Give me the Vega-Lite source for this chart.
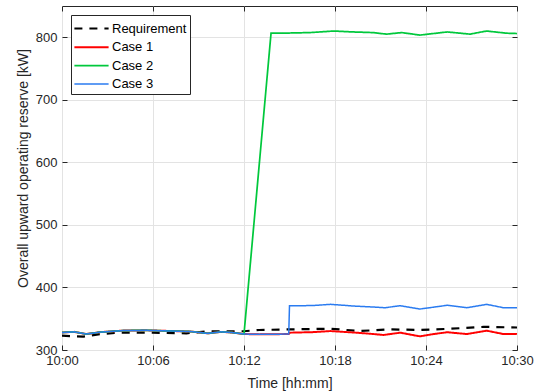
{
  "$schema": "https://vega.github.io/schema/vega-lite/v6.json",
  "width": 455,
  "height": 344,
  "autosize": "none",
  "padding": {"left": 62, "top": 6, "right": 25, "bottom": 42},
  "config": {
    "font": "Liberation Sans",
    "view": {"stroke": "#262626", "strokeWidth": 1},
    "axis": {
      "domain": false,
      "tickColor": "#262626",
      "tickSize": -5,
      "labelColor": "#262626",
      "labelFontSize": 13,
      "titleColor": "#262626",
      "titleFontSize": 14,
      "titleFontWeight": "normal",
      "gridColor": "#e3e3e3",
      "gridWidth": 1
    },
    "legend": {
      "orient": "top-left",
      "offset": 9,
      "fillColor": "white",
      "strokeColor": "#262626",
      "padding": 3,
      "labelFontSize": 13,
      "labelColor": "#000000",
      "symbolType": "M-1.9,0H1.9",
      "symbolSize": 324,
      "symbolStrokeWidth": 2,
      "symbolOffset": 7,
      "rowPadding": 1.3,
      "labelOffset": 10
    }
  },
  "data": {
    "values": [
      {"t": "2020-01-01T10:00:00", "value": 322.9, "series": "Requirement"},
      {"t": "2020-01-01T10:01:24", "value": 321.3, "series": "Requirement"},
      {"t": "2020-01-01T10:02:30", "value": 325.5, "series": "Requirement"},
      {"t": "2020-01-01T10:03:48", "value": 327.7, "series": "Requirement"},
      {"t": "2020-01-01T10:06:00", "value": 327.7, "series": "Requirement"},
      {"t": "2020-01-01T10:08:12", "value": 326.6, "series": "Requirement"},
      {"t": "2020-01-01T10:09:36", "value": 330, "series": "Requirement"},
      {"t": "2020-01-01T10:12:00", "value": 330, "series": "Requirement"},
      {"t": "2020-01-01T10:13:00", "value": 332, "series": "Requirement"},
      {"t": "2020-01-01T10:15:12", "value": 333, "series": "Requirement"},
      {"t": "2020-01-01T10:17:42", "value": 334, "series": "Requirement"},
      {"t": "2020-01-01T10:19:36", "value": 330.3, "series": "Requirement"},
      {"t": "2020-01-01T10:21:36", "value": 333, "series": "Requirement"},
      {"t": "2020-01-01T10:23:36", "value": 332, "series": "Requirement"},
      {"t": "2020-01-01T10:25:36", "value": 334, "series": "Requirement"},
      {"t": "2020-01-01T10:27:48", "value": 337, "series": "Requirement"},
      {"t": "2020-01-01T10:30:00", "value": 336, "series": "Requirement"},

      {"t": "2020-01-01T10:00:00", "value": 328, "series": "Case 1"},
      {"t": "2020-01-01T10:00:48", "value": 329, "series": "Case 1"},
      {"t": "2020-01-01T10:01:36", "value": 325.5, "series": "Case 1"},
      {"t": "2020-01-01T10:02:30", "value": 328.5, "series": "Case 1"},
      {"t": "2020-01-01T10:04:00", "value": 331, "series": "Case 1"},
      {"t": "2020-01-01T10:05:30", "value": 331.5, "series": "Case 1"},
      {"t": "2020-01-01T10:07:00", "value": 330.5, "series": "Case 1"},
      {"t": "2020-01-01T10:08:30", "value": 329.5, "series": "Case 1"},
      {"t": "2020-01-01T10:09:36", "value": 326.6, "series": "Case 1"},
      {"t": "2020-01-01T10:10:30", "value": 329, "series": "Case 1"},
      {"t": "2020-01-01T10:11:12", "value": 328, "series": "Case 1"},
      {"t": "2020-01-01T10:12:00", "value": 325.5, "series": "Case 1"},
      {"t": "2020-01-01T10:13:00", "value": 325, "series": "Case 1"},
      {"t": "2020-01-01T10:14:57", "value": 325.5, "series": "Case 1"},
      {"t": "2020-01-01T10:15:00", "value": 327.7, "series": "Case 1"},
      {"t": "2020-01-01T10:16:30", "value": 328.5, "series": "Case 1"},
      {"t": "2020-01-01T10:17:42", "value": 330.3, "series": "Case 1"},
      {"t": "2020-01-01T10:19:24", "value": 327.7, "series": "Case 1"},
      {"t": "2020-01-01T10:20:18", "value": 326, "series": "Case 1"},
      {"t": "2020-01-01T10:21:12", "value": 324, "series": "Case 1"},
      {"t": "2020-01-01T10:22:18", "value": 327.7, "series": "Case 1"},
      {"t": "2020-01-01T10:23:36", "value": 321.8, "series": "Case 1"},
      {"t": "2020-01-01T10:24:30", "value": 325.5, "series": "Case 1"},
      {"t": "2020-01-01T10:25:24", "value": 328.4, "series": "Case 1"},
      {"t": "2020-01-01T10:26:42", "value": 325.5, "series": "Case 1"},
      {"t": "2020-01-01T10:28:00", "value": 330.9, "series": "Case 1"},
      {"t": "2020-01-01T10:29:06", "value": 325.5, "series": "Case 1"},
      {"t": "2020-01-01T10:30:00", "value": 325.5, "series": "Case 1"},

      {"t": "2020-01-01T10:00:00", "value": 328, "series": "Case 2"},
      {"t": "2020-01-01T10:00:48", "value": 329, "series": "Case 2"},
      {"t": "2020-01-01T10:01:36", "value": 325.5, "series": "Case 2"},
      {"t": "2020-01-01T10:02:30", "value": 328.5, "series": "Case 2"},
      {"t": "2020-01-01T10:04:00", "value": 331, "series": "Case 2"},
      {"t": "2020-01-01T10:05:30", "value": 331.5, "series": "Case 2"},
      {"t": "2020-01-01T10:07:00", "value": 330.5, "series": "Case 2"},
      {"t": "2020-01-01T10:08:30", "value": 329.5, "series": "Case 2"},
      {"t": "2020-01-01T10:09:36", "value": 326.6, "series": "Case 2"},
      {"t": "2020-01-01T10:10:30", "value": 329, "series": "Case 2"},
      {"t": "2020-01-01T10:11:12", "value": 328, "series": "Case 2"},
      {"t": "2020-01-01T10:12:00", "value": 325.5, "series": "Case 2"},
      {"t": "2020-01-01T10:13:47", "value": 806.6, "series": "Case 2"},
      {"t": "2020-01-01T10:15:00", "value": 806.8, "series": "Case 2"},
      {"t": "2020-01-01T10:16:21", "value": 807.5, "series": "Case 2"},
      {"t": "2020-01-01T10:17:00", "value": 808.5, "series": "Case 2"},
      {"t": "2020-01-01T10:17:54", "value": 810, "series": "Case 2"},
      {"t": "2020-01-01T10:19:12", "value": 808.5, "series": "Case 2"},
      {"t": "2020-01-01T10:20:30", "value": 807.5, "series": "Case 2"},
      {"t": "2020-01-01T10:21:24", "value": 805, "series": "Case 2"},
      {"t": "2020-01-01T10:22:24", "value": 807.5, "series": "Case 2"},
      {"t": "2020-01-01T10:23:36", "value": 803.5, "series": "Case 2"},
      {"t": "2020-01-01T10:25:24", "value": 808.5, "series": "Case 2"},
      {"t": "2020-01-01T10:26:54", "value": 805, "series": "Case 2"},
      {"t": "2020-01-01T10:28:00", "value": 810, "series": "Case 2"},
      {"t": "2020-01-01T10:29:18", "value": 806.5, "series": "Case 2"},
      {"t": "2020-01-01T10:30:00", "value": 806, "series": "Case 2"},

      {"t": "2020-01-01T10:00:00", "value": 328, "series": "Case 3"},
      {"t": "2020-01-01T10:00:48", "value": 329, "series": "Case 3"},
      {"t": "2020-01-01T10:01:36", "value": 325.5, "series": "Case 3"},
      {"t": "2020-01-01T10:02:30", "value": 328.5, "series": "Case 3"},
      {"t": "2020-01-01T10:04:00", "value": 331, "series": "Case 3"},
      {"t": "2020-01-01T10:05:30", "value": 331.5, "series": "Case 3"},
      {"t": "2020-01-01T10:07:00", "value": 330.5, "series": "Case 3"},
      {"t": "2020-01-01T10:08:30", "value": 329.5, "series": "Case 3"},
      {"t": "2020-01-01T10:09:36", "value": 326.6, "series": "Case 3"},
      {"t": "2020-01-01T10:10:30", "value": 329, "series": "Case 3"},
      {"t": "2020-01-01T10:11:12", "value": 328, "series": "Case 3"},
      {"t": "2020-01-01T10:12:00", "value": 325.5, "series": "Case 3"},
      {"t": "2020-01-01T10:13:00", "value": 325, "series": "Case 3"},
      {"t": "2020-01-01T10:14:57", "value": 325.5, "series": "Case 3"},
      {"t": "2020-01-01T10:15:00", "value": 370.8, "series": "Case 3"},
      {"t": "2020-01-01T10:16:30", "value": 371, "series": "Case 3"},
      {"t": "2020-01-01T10:17:42", "value": 373, "series": "Case 3"},
      {"t": "2020-01-01T10:19:24", "value": 370, "series": "Case 3"},
      {"t": "2020-01-01T10:20:18", "value": 369, "series": "Case 3"},
      {"t": "2020-01-01T10:21:18", "value": 367.6, "series": "Case 3"},
      {"t": "2020-01-01T10:22:18", "value": 370.8, "series": "Case 3"},
      {"t": "2020-01-01T10:23:36", "value": 365.5, "series": "Case 3"},
      {"t": "2020-01-01T10:24:30", "value": 368.5, "series": "Case 3"},
      {"t": "2020-01-01T10:25:24", "value": 371.5, "series": "Case 3"},
      {"t": "2020-01-01T10:26:42", "value": 367.6, "series": "Case 3"},
      {"t": "2020-01-01T10:28:00", "value": 373, "series": "Case 3"},
      {"t": "2020-01-01T10:29:06", "value": 367.6, "series": "Case 3"},
      {"t": "2020-01-01T10:30:00", "value": 367.6, "series": "Case 3"}
    ]
  },
  "resolve": {"axis": {"x": "independent", "y": "independent"}},
  "layer": [
    {
      "mark": {"type": "line", "clip": true},
      "encoding": {
        "x": {
          "field": "t",
          "type": "temporal",
          "scale": {"domain": [
            {"year": 2020, "month": 1, "date": 1, "hours": 10, "minutes": 0},
            {"year": 2020, "month": 1, "date": 1, "hours": 10, "minutes": 30}
          ]},
          "axis": {
            "title": "Time [hh:mm]",
            "format": "%H:%M",
            "values": [
              {"year": 2020, "month": 1, "date": 1, "hours": 10, "minutes": 0},
              {"year": 2020, "month": 1, "date": 1, "hours": 10, "minutes": 6},
              {"year": 2020, "month": 1, "date": 1, "hours": 10, "minutes": 12},
              {"year": 2020, "month": 1, "date": 1, "hours": 10, "minutes": 18},
              {"year": 2020, "month": 1, "date": 1, "hours": 10, "minutes": 24},
              {"year": 2020, "month": 1, "date": 1, "hours": 10, "minutes": 30}
            ],
            "labelPadding": 9,
            "titlePadding": 9,
            "labelFlush": false
          }
        },
        "y": {
          "field": "value",
          "type": "quantitative",
          "scale": {"domain": [300, 850], "nice": false, "zero": false},
          "axis": {
            "title": "Overall upward operating reserve [kW]",
            "values": [300, 400, 500, 600, 700, 800],
            "labelPadding": 10,
            "titlePadding": 5,
            "titleY": 162
          }
        },
        "color": {
          "field": "series",
          "type": "nominal",
          "scale": {
            "domain": ["Requirement", "Case 1", "Case 2", "Case 3"],
            "range": ["#000000", "#ff0000", "#00c83c", "#2a7bf0"]
          },
          "legend": {"title": null}
        },
        "strokeDash": {
          "field": "series",
          "type": "nominal",
          "scale": {
            "domain": ["Requirement", "Case 1", "Case 2", "Case 3"],
            "range": [[8, 7], [1, 0], [1, 0], [1, 0]]
          },
          "legend": {"title": null}
        },
        "strokeWidth": {
          "field": "series",
          "type": "nominal",
          "scale": {
            "domain": ["Requirement", "Case 1", "Case 2", "Case 3"],
            "range": [2.2, 1.5, 1.5, 1.5]
          },
          "legend": null
        },
        "order": {"field": "series"}
      }
    },
    {
      "mark": {"type": "line", "opacity": 0},
      "encoding": {
        "x": {
          "field": "t",
          "type": "temporal",
          "axis": {
            "orient": "top",
            "labels": false,
            "title": null,
            "grid": false,
            "values": [
              {"year": 2020, "month": 1, "date": 1, "hours": 10, "minutes": 0},
              {"year": 2020, "month": 1, "date": 1, "hours": 10, "minutes": 6},
              {"year": 2020, "month": 1, "date": 1, "hours": 10, "minutes": 12},
              {"year": 2020, "month": 1, "date": 1, "hours": 10, "minutes": 18},
              {"year": 2020, "month": 1, "date": 1, "hours": 10, "minutes": 24},
              {"year": 2020, "month": 1, "date": 1, "hours": 10, "minutes": 30}
            ]
          }
        },
        "y": {
          "field": "value",
          "type": "quantitative",
          "axis": {
            "orient": "right",
            "labels": false,
            "title": null,
            "grid": false,
            "values": [300, 400, 500, 600, 700, 800]
          }
        },
        "detail": {"field": "series"}
      }
    }
  ]
}
